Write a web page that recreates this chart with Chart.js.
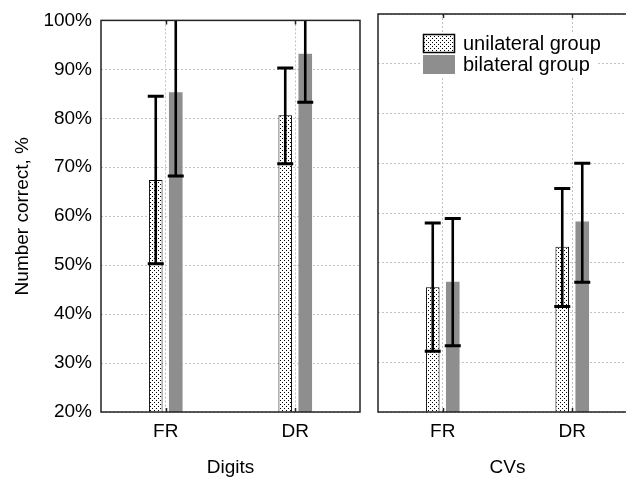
<!DOCTYPE html>
<html><head><meta charset="utf-8">
<script src="https://cdn.jsdelivr.net/npm/chart.js@4/dist/chart.umd.min.js"></script>
<style>
html,body{margin:0;padding:0;overflow:hidden;background:#fff;width:626px;height:479px;}
#wrap{position:relative;width:626px;height:479px;overflow:hidden;background:#fff;}
#c1{position:absolute;left:0;top:0;width:366px;height:479px;}
#c2{position:absolute;left:366px;top:0;width:280px;height:479px;}
</style></head><body>
<div id="wrap"><canvas id="c1" width="366" height="479"></canvas><canvas id="c2" width="280" height="479"></canvas></div>
<script>
// ---- data ----
const categories = ['FR', 'DR'];
const panelTitles = ['Digits', 'CVs'];
const seriesNames = ['unilateral group', 'bilateral group'];
const yAxisTitle = 'Number correct, %';
const yTickValues = [20, 30, 40, 50, 60, 70, 80, 90, 100];

const digitsUnilateral = [67.4, 80.6];
const digitsUnilateralLow = [50.3, 70.7];
const digitsUnilateralHigh = [84.5, 90.3];
const digitsBilateral = [85.3, 93.2];
const digitsBilateralLow = [68.2, 83.3];
const digitsBilateralHigh = [102.4, 103.1];

const cvsUnilateral = [45.1, 53.2];
const cvsUnilateralLow = [32.2, 41.2];
const cvsUnilateralHigh = [58.0, 64.9];
const cvsBilateral = [46.2, 58.3];
const cvsBilateralLow = [33.3, 46.1];
const cvsBilateralHigh = [58.9, 70.0];

// ---- style ----
const FONT = 'Liberation Sans, Arial, Helvetica, sans-serif';
const GRID = '#c2c2c2';
const BAR_GRAY = '#8e8e8e';

function dotPattern(ctx) {
  const c = document.createElement('canvas');
  c.width = 4; c.height = 4;
  const x = c.getContext('2d');
  x.fillStyle = '#fff'; x.fillRect(0, 0, 4, 4);
  x.fillStyle = '#000'; x.fillRect(0, 0, 1, 1); x.fillRect(2, 2, 1, 1);
  return ctx.createPattern(c, 'repeat');
}

const errorBars = {
  id: 'errorBars',
  afterDatasetsDraw(chart, args, opts) {
    const ctx = chart.ctx, a = chart.chartArea, ys = chart.scales.y;
    ctx.save();
    ctx.beginPath(); ctx.rect(a.left, a.top, a.right - a.left, a.bottom - a.top); ctx.clip();
    ctx.strokeStyle = '#000'; ctx.lineCap = 'butt';
    chart.data.datasets.forEach((ds, di) => {
      const meta = chart.getDatasetMeta(di);
      meta.data.forEach((el, i) => {
        const lo = ys.getPixelForValue(ds.errLow[i]);
        const hi = ys.getPixelForValue(ds.errHigh[i]);
        ctx.lineWidth = 2.6;
        ctx.beginPath(); ctx.moveTo(el.x, lo); ctx.lineTo(el.x, hi); ctx.stroke();
        ctx.lineWidth = 3;
        ctx.beginPath();
        ctx.moveTo(el.x - 8, lo); ctx.lineTo(el.x + 8, lo);
        ctx.moveTo(el.x - 8, hi); ctx.lineTo(el.x + 8, hi);
        ctx.stroke();
      });
    });
    ctx.restore();
  }
};

const frame = {
  id: 'frame',
  afterDatasetsDraw(chart) {
    const ctx = chart.ctx, a = chart.chartArea, xs = chart.scales.x;
    ctx.save();
    ctx.strokeStyle = '#222'; ctx.lineWidth = 1.5;
    ctx.strokeRect(a.left, a.top, a.right - a.left, a.bottom - a.top);
    ctx.lineWidth = 1.5;
    ctx.beginPath();
    xs.ticks.forEach((t, i) => {
      const px = Math.round(xs.getPixelForTick(i)) + 0.5;
      ctx.moveTo(px, a.bottom); ctx.lineTo(px, a.bottom - 4);
      ctx.moveTo(px, a.top); ctx.lineTo(px, a.top + 4);
    });
    ctx.stroke();
    ctx.restore();
  }
};

const boxLegend = {
  id: 'boxLegend',
  afterDatasetsDraw(chart) {
    const ctx = chart.ctx, a = chart.chartArea;
    const bx = a.left + 45, by = a.top + 20;
    ctx.save();
    ctx.fillStyle = '#fff';
    ctx.fillRect(a.left + 42, a.top + 19, 177, 44);
    ctx.font = '20px ' + FONT;
    ctx.textBaseline = 'middle';
    chart.data.datasets.forEach((ds, i) => {
      const y = by + i * 21;
      ctx.fillStyle = ds.backgroundColor;
      ctx.fillRect(bx, y, 32, 19);
      if (ds.borderWidth) {
        ctx.strokeStyle = '#000'; ctx.lineWidth = 1.5;
        ctx.strokeRect(bx + 0.5, y + 0.5, 31, 18);
      }
      ctx.fillStyle = '#000';
      ctx.fillText(ds.label, bx + 40, y + 10);
    });
    ctx.restore();
  }
};

function makeChart(canvas, title, uni, uniLo, uniHi, bi, biLo, biHi, isLeft) {
  const ctx = canvas.getContext('2d');
  return new Chart(ctx, {
    type: 'bar',
    data: {
      labels: categories,
      datasets: [
        { label: seriesNames[0], data: uni, errLow: uniLo, errHigh: uniHi,
          backgroundColor: dotPattern(ctx), borderColor: '#000', borderWidth: 1,
          barPercentage: 0.68, categoryPercentage: 0.309 },
        { label: seriesNames[1], data: bi, errLow: biLo, errHigh: biHi,
          backgroundColor: BAR_GRAY, borderWidth: 0,
          barPercentage: 0.68, categoryPercentage: 0.309 }
      ]
    },
    options: {
      responsive: false, animation: false, devicePixelRatio: 1,
      layout: { padding: isLeft ? { left: 0, right: 6, top: 14, bottom: 0 } : { left: 12, right: 9, top: 14, bottom: 0 } },
      plugins: { legend: { display: false }, tooltip: { enabled: false } },
      scales: {
        x: {
          offset: true,
          grid: { display: true, offset: false, color: GRID, lineWidth: 1, drawTicks: false },
          border: { display: false, dash: [2, 2] },
          ticks: { padding: 8, color: '#000', font: { size: 19, family: FONT } },
          title: { display: true, text: title, color: '#000', font: { size: 19, family: FONT }, padding: { top: 0, bottom: 0 } },
          afterFit(s) { s.height = 67; }
        },
        y: {
          min: 20, max: 100,
          afterBuildTicks(s) { s.ticks = yTickValues.map(v => ({ value: v })); },
          grid: { color: GRID, lineWidth: 1, drawTicks: false },
          border: { display: false, dash: [2, 2] },
          ticks: { display: isLeft, padding: 9, color: '#000', font: { size: 19, family: FONT }, callback: v => v + '%' },
          title: { display: isLeft, text: yAxisTitle, color: '#000', font: { size: 19, family: FONT }, padding: { top: 11, bottom: 0 } },
          afterFit(s) { s.width = isLeft ? 101 : 0; }
        }
      }
    },
    plugins: isLeft ? [errorBars, frame] : [errorBars, frame, boxLegend]
  });
}

makeChart(document.getElementById('c1'), panelTitles[0],
  digitsUnilateral, digitsUnilateralLow, digitsUnilateralHigh,
  digitsBilateral, digitsBilateralLow, digitsBilateralHigh, true);
makeChart(document.getElementById('c2'), panelTitles[1],
  cvsUnilateral, cvsUnilateralLow, cvsUnilateralHigh,
  cvsBilateral, cvsBilateralLow, cvsBilateralHigh, false);
</script>
</body></html>
